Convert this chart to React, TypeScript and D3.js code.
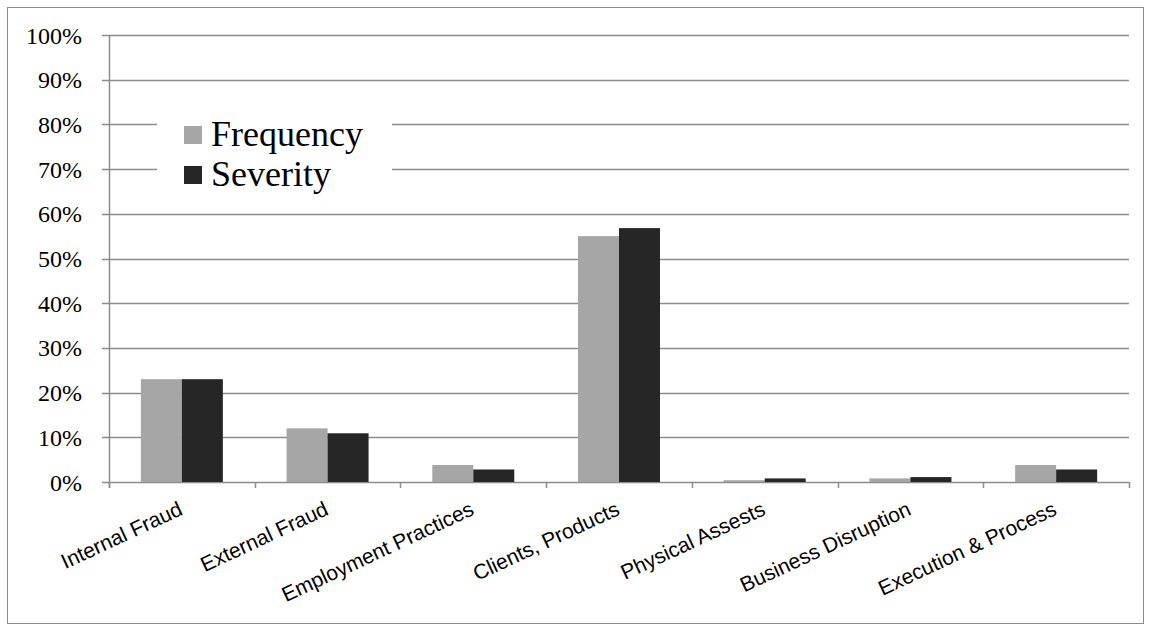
import React, { useEffect, useRef } from 'react';
import * as d3 from 'd3';

const categories = [
  'Internal Fraud',
  'External Fraud',
  'Employment Practices',
  'Clients, Products',
  'Physical Assests',
  'Business Disruption',
  'Execution & Process',
];
const seriesNames = ['Frequency', 'Severity'];
const frequency = [23, 12, 3.8, 55, 0.4, 0.8, 3.8];
const severity = [23, 10.9, 2.8, 56.8, 0.8, 1.1, 2.8];
const yTicks = [0, 10, 20, 30, 40, 50, 60, 70, 80, 90, 100];
const colors = ['#a6a6a6', '#262626'];

const App: React.FC = () => {
  const svgRef = useRef<SVGSVGElement>(null);

  useEffect(() => {
    if (!svgRef.current) return;
    const W = 1152;
    const H = 624;
    const left = 109, right = 1129, top = 35, bottom = 482;

    const svg = d3.select(svgRef.current);
    svg.selectAll('*').remove();
    svg.attr('width', W).attr('height', H);

    // outer border
    svg.append('rect')
      .attr('x', 7.5).attr('y', 7.5)
      .attr('width', 1136).attr('height', 616)
      .attr('fill', '#fff')
      .attr('stroke', '#8c8c8c');

    const x0 = d3.scaleBand<string>().domain(categories).range([left, right]).padding(0);
    const groupW = 82;
    const x1 = d3.scaleBand<string>().domain(seriesNames).range([0, groupW]).padding(0);
    const y = d3.scaleLinear().domain([0, 100]).range([bottom, top]);

    // gridlines
    svg.append('g')
      .selectAll('line')
      .data(yTicks)
      .enter().append('line')
      .attr('x1', left - 7).attr('x2', right)
      .attr('y1', d => Math.round(y(d)) + 0.5)
      .attr('y2', d => Math.round(y(d)) + 0.5)
      .attr('stroke', '#8c8c8c')
      .attr('stroke-width', 1.5);

    // y labels
    svg.append('g')
      .selectAll('text')
      .data(yTicks)
      .enter().append('text')
      .attr('x', 82)
      .attr('y', d => y(d) + 8.5)
      .attr('text-anchor', 'end')
      .style('font-family', '"Liberation Serif", "Times New Roman", serif')
      .style('font-size', '24px')
      .attr('fill', '#000')
      .text(d => `${d}%`);

    // y axis line
    svg.append('line')
      .attr('x1', left + 0.5).attr('x2', left + 0.5)
      .attr('y1', top).attr('y2', bottom + 6)
      .attr('stroke', '#8c8c8c').attr('stroke-width', 1.5);

    // x ticks
    const tickXs = categories.map(c => x0(c) || 0).concat([right]);
    svg.append('g')
      .selectAll('line')
      .data(tickXs)
      .enter().append('line')
      .attr('x1', d => Math.round(d) + 0.5).attr('x2', d => Math.round(d) + 0.5)
      .attr('y1', bottom).attr('y2', bottom + 6)
      .attr('stroke', '#8c8c8c').attr('stroke-width', 1.5);

    // bars
    const data = [frequency, severity];
    const g = svg.append('g');
    categories.forEach((c, i) => {
      const gx = (x0(c) || 0) + (x0.bandwidth() - groupW) / 2;
      seriesNames.forEach((s, j) => {
        const v = data[j][i];
        g.append('rect')
          .attr('x', gx + (x1(s) || 0))
          .attr('y', y(v))
          .attr('width', x1.bandwidth())
          .attr('height', bottom - y(v))
          .attr('fill', colors[j]);
      });
    });

    // x labels
    svg.append('g')
      .selectAll('text')
      .data(categories)
      .enter().append('text')
      .attr('transform', d => `translate(${(x0(d) || 0) + x0.bandwidth() / 2 + 2},${514}) rotate(-25)`)
      .attr('text-anchor', 'end')
      .style('font-family', '"Liberation Sans", Arial, sans-serif')
      .style('font-size', '21px')
      .attr('fill', '#000')
      .text(d => d);

    // legend
    svg.append('rect')
      .attr('x', 157).attr('y', 105)
      .attr('width', 235).attr('height', 95)
      .attr('fill', '#fff');
    const leg = svg.append('g');
    seriesNames.forEach((s, j) => {
      const ly = 126 + j * 40;
      leg.append('rect')
        .attr('x', 184).attr('y', ly)
        .attr('width', 18).attr('height', 18)
        .attr('fill', colors[j]);
      leg.append('text')
        .attr('x', 211).attr('y', ly + 20)
        .style('font-family', '"Liberation Serif", "Times New Roman", serif')
        .style('font-size', '36px')
        .attr('fill', '#000')
        .text(s);
    });
  }, []);

  return (
    <div style={{ position: 'absolute', left: 0, top: 0, background: '#fff' }}>
      <svg ref={svgRef} style={{ display: 'block' }}></svg>
    </div>
  );
};

export default App;
